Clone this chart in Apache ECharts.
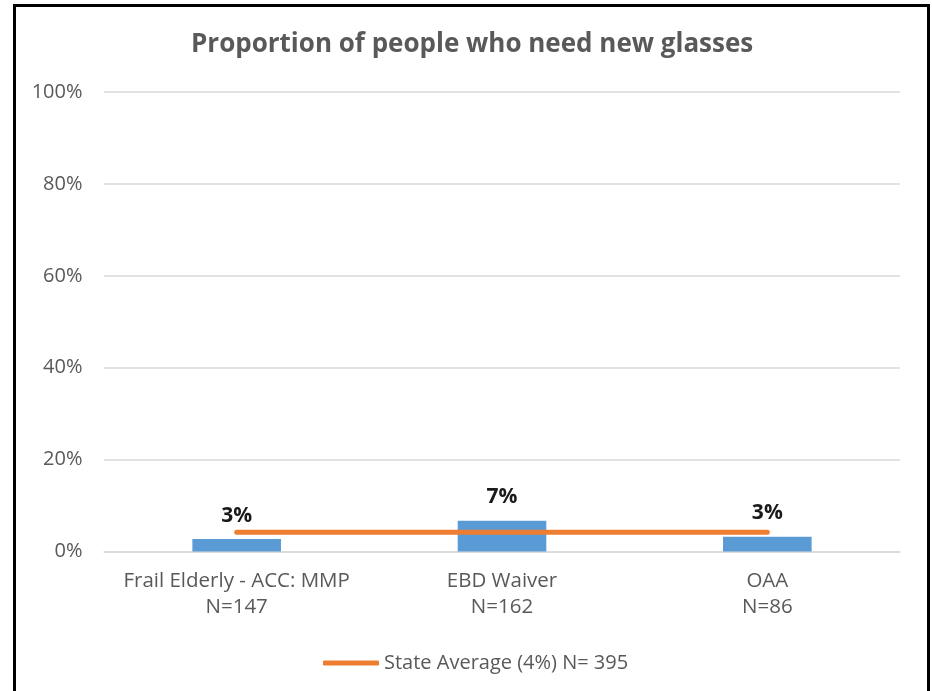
<!DOCTYPE html>
<html>
<head>
<meta charset="utf-8">
<script src="https://cdn.jsdelivr.net/npm/echarts@6/dist/echarts.min.js"></script>
<style>
html,body{margin:0;padding:0;background:#fff;}
#chart{width:932px;height:691px;}
</style>
</head>
<body>
<div id="chart"></div>
<script>
const categories = ['Frail Elderly - ACC: MMP\nN=147', 'EBD Waiver\nN=162', 'OAA\nN=86'];
const barValues = [2.7, 6.7, 3.2];
const stateAverage = [4.2, 4.2, 4.2];
const yTicks = [0, 20, 40, 60, 80, 100];
const titleText = 'Proportion of people who need new glasses';
const legendName = 'State Average (4%) N= 395';

const FONT = '"Open Sans", Lato, sans-serif';
const chart = echarts.init(document.getElementById('chart'), null, {renderer: 'canvas'});
chart.setOption({
  backgroundColor: '#ffffff',
  animation: false,
  title: {
    text: titleText,
    left: 186,
    top: 27,
    textStyle: {fontFamily: FONT, fontSize: 26, fontWeight: 'bold', color: '#595959'}
  },
  graphic: [{
    type: 'rect',
    shape: {x: 14.5, y: 5.5, width: 914, height: 700},
    style: {fill: 'none', stroke: '#000', lineWidth: 3}
  }],
  legend: {
    data: [legendName],
    left: 318,
    top: 648,
    icon: 'roundRect',
    itemWidth: 56,
    itemHeight: 5,
    itemGap: 0,
    textStyle: {fontFamily: FONT, fontSize: 20, color: '#595959'}
  },
  grid: {left: 104, right: 32, top: 92, bottom: 139.5, containLabel: false},
  xAxis: {
    type: 'category',
    data: categories,
    axisTick: {show: false},
    axisLine: {lineStyle: {color: '#D9D9D9', width: 1.5}},
    axisLabel: {interval: 0, hideOverlap: false, fontFamily: FONT, fontSize: 20.5, color: '#595959', lineHeight: 26, margin: 17}
  },
  yAxis: {
    type: 'value',
    min: yTicks[0],
    max: yTicks[yTicks.length - 1],
    interval: yTicks[1] - yTicks[0],
    axisLine: {show: false},
    axisTick: {show: false},
    splitLine: {lineStyle: {color: '#D9D9D9', width: 1.5}},
    axisLabel: {fontFamily: FONT, fontSize: 20, color: '#595959', margin: 21.5, formatter: v => v + '%'}
  },
  series: [
    {
      type: 'bar',
      data: barValues,
      barWidth: '33.4%',
      itemStyle: {color: '#5B9BD5'},
      label: {
        show: true,
        position: 'top',
        distance: 13,
        fontFamily: FONT,
        fontSize: 21,
        fontWeight: 'bold',
        color: '#1a1a1a',
        formatter: p => Math.round(p.value) + '%'
      },
      z: 2
    },
    {
      name: legendName,
      type: 'line',
      data: stateAverage,
      symbol: 'none',
      lineStyle: {color: '#ED7D31', width: 5, cap: 'round'},
      itemStyle: {color: '#ED7D31'},
      z: 3
    }
  ]
});
</script>
</body>
</html>
